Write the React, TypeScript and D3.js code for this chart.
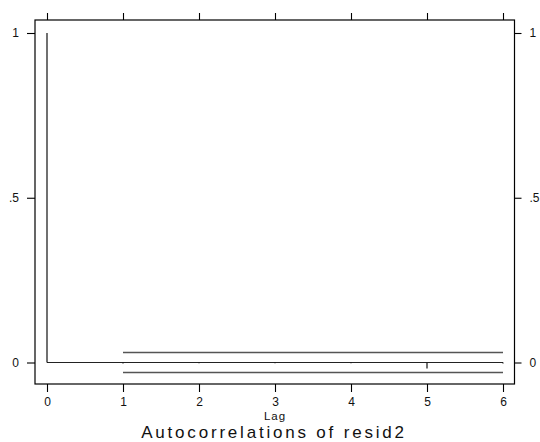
import { useEffect, useRef } from "react";
import { axisBottom, axisLeft, axisRight, axisTop, scaleLinear, select } from "d3";

// acf of resid2
const lags = [0, 1, 2, 3, 4, 5, 6];
const acf = [1, -0.003, -0.002, -0.002, -0.002, -0.018, -0.003];
const bandLags = [1, 2, 3, 4, 5, 6];
const bandHalfWidth = 0.0303;
const yTicks = [0, 0.5, 1];
const xTicks = [0, 1, 2, 3, 4, 5, 6];

const W = 540;
const H = 442;
const frame = { left: 35, right: 514.5, top: 20, bottom: 384 };
const font = "'Liberation Sans', Arial, Helvetica, sans-serif";

const fmtY = (v: number) => (v === 0.5 ? ".5" : String(v));

export default function App() {
    const axesRef = useRef<SVGGElement>(null);

    const x = scaleLinear().domain([0, 6]).range([47, 503]);
    const y = scaleLinear().domain([0, 1]).range([362.5, 33]);

    useEffect(() => {
        if (!axesRef.current) return;
        const g = select(axesRef.current);
        g.selectAll("*").remove();

        const style = (sel: any) => {
            sel.select(".domain").remove();
            sel.selectAll("line").attr("stroke", "#000").attr("stroke-width", 1.1);
            sel.selectAll("text")
                .attr("fill", "#111")
                .style("font-family", font)
                .style("font-size", "12px");
        };

        g.append("g")
            .attr("transform", `translate(0,${frame.bottom})`)
            .call(axisBottom(x).tickValues(xTicks).tickSize(8).tickPadding(5).tickFormat((d: any) => String(d)))
            .call(style);
        g.append("g")
            .attr("transform", `translate(0,${frame.top})`)
            .call(axisTop(x).tickValues(xTicks).tickSize(7).tickFormat(() => ""))
            .call(style);
        g.append("g")
            .attr("transform", `translate(${frame.left},0)`)
            .call(axisLeft(y).tickValues(yTicks).tickSize(8).tickPadding(8).tickFormat((d: any) => fmtY(d)))
            .call(style);
        g.append("g")
            .attr("transform", `translate(${frame.right},0)`)
            .call(axisRight(y).tickValues(yTicks).tickSize(7).tickPadding(8).tickFormat((d: any) => fmtY(d)))
            .call(style);
    }, []);

    return (
        <svg width={W} height={H} style={{ position: "absolute", left: 0, top: 0, background: "#fff" }}>
            <rect x={0} y={0} width={W} height={H} fill="#fff" />
            <rect
                x={frame.left}
                y={frame.top}
                width={frame.right - frame.left}
                height={frame.bottom - frame.top}
                fill="none"
                stroke="#000"
                strokeWidth={1.2}
            />
            {/* confidence bands */}
            {[bandHalfWidth, -bandHalfWidth].map((b) => (
                <line
                    key={b}
                    x1={x(bandLags[0])}
                    x2={x(bandLags[bandLags.length - 1])}
                    y1={y(b)}
                    y2={y(b)}
                    stroke="#555"
                    strokeWidth={1.4}
                />
            ))}
            {/* baseline */}
            <line x1={x(lags[0])} x2={x(lags[lags.length - 1])} y1={y(0)} y2={y(0)} stroke="#222" strokeWidth={1.1} />
            {/* spikes */}
            {lags.map((l, i) => (
                <line key={l} x1={x(l)} x2={x(l)} y1={y(0)} y2={y(acf[i])} stroke="#111" strokeWidth={1.2} />
            ))}
            <g ref={axesRef} />
            <text x={275} y={420} textAnchor="middle" fontFamily={font} fontSize={11.5} letterSpacing={1} fill="#111">
                Lag
            </text>
            <text x={274} y={438} textAnchor="middle" fontFamily={font} fontSize={17} letterSpacing={2.8} fill="#111">
                Autocorrelations of resid2
            </text>
        </svg>
    );
}
